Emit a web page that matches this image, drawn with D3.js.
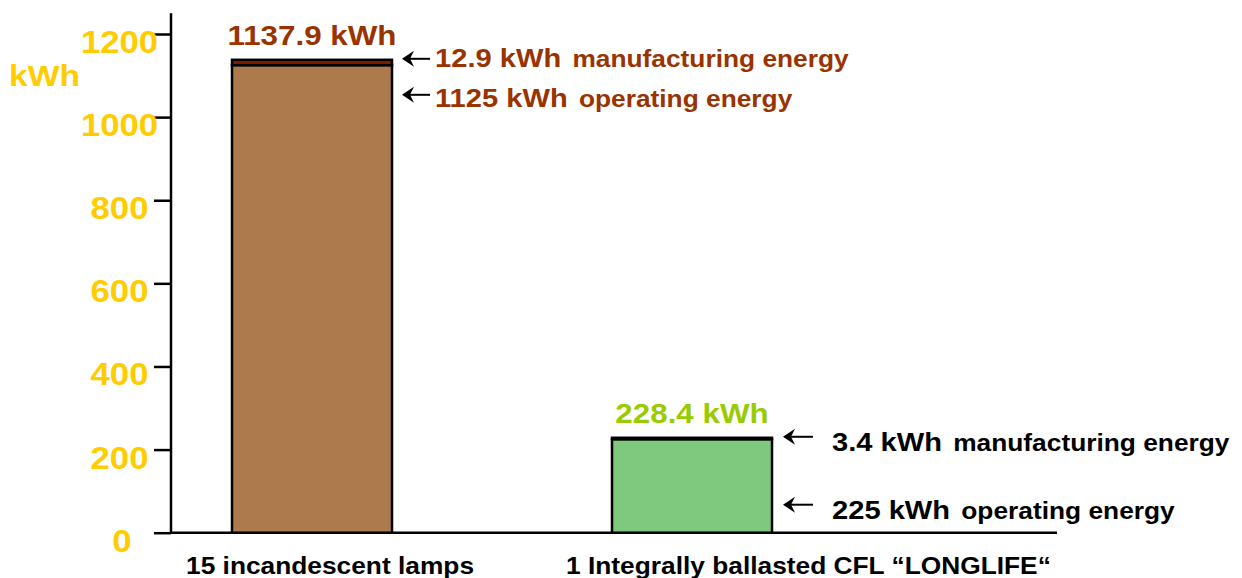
<!DOCTYPE html>
<html><head><meta charset="utf-8">
<script src="https://cdn.jsdelivr.net/npm/d3@7"></script>
<style>
html,body{margin:0;padding:0;background:#fff;}
text{font-family:"Liberation Sans",Arial,sans-serif;font-weight:bold;}
</style></head>
<body>
<svg id="chart" width="1242" height="578"></svg>
<script>
const categories = ["15 incandescent lamps", "1 Integrally ballasted CFL \u201cLONGLIFE\u201c"];
const operating = [1125, 225];
const manufacturing = [12.9, 3.4];
const totals = [1137.9, 228.4];
const tickValues = [0, 200, 400, 600, 800, 1000, 1200];
const opLabels = ["1125 kWh", "225 kWh"];
const mfLabels = ["12.9 kWh", "3.4 kWh"];
const totalLabels = ["1137.9 kWh", "228.4 kWh"];

const opColors = ["#AD7A4E", "#7FC97F"];
const mfColors = ["#7F1F00", "#2E8B3E"];
const totalColors = ["#993300", "#99CC00"];
const annColors = ["#993300", "#000000"];
const SX = 1.12;

const svg = d3.select("#chart");
const y = d3.scaleLinear().domain([0, 1200]).range([532.7, 34]);
const x = d3.scaleBand().domain(categories).range([156, 848]).paddingInner(220/380).paddingOuter(0.2);
const bw = x.bandwidth();

// axis
const axisX = 171;
const gAxis = svg.append("g").attr("transform", `translate(${axisX},0)`);
gAxis.call(d3.axisLeft(y).tickValues(tickValues).tickSize(17).tickFormat(""))
  .call(g => g.select(".domain").remove())
  .call(g => g.selectAll(".tick line").attr("stroke", "#000").attr("stroke-width", 2.5));
gAxis.append("line").attr("x1", 0).attr("x2", 0).attr("y1", y(0)).attr("y2", y(1250))
  .attr("stroke", "#000").attr("stroke-width", 2.5);
svg.append("line").attr("x1", axisX).attr("x2", 1057).attr("y1", y(0)).attr("y2", y(0))
  .attr("stroke", "#000").attr("stroke-width", 2.5);

function stext(px, py, anchor, size, color, str) {
  const g = svg.append("g").attr("transform", `translate(${px},${py}) scale(${SX},1)`);
  return g.append("text").attr("text-anchor", anchor).attr("font-size", size)
    .attr("fill", color).text(str);
}

tickValues.forEach(v => {
  stext(v === 0 ? 122 : 119.5, y(v) + 19, "middle", 31, "#FFCC00", v);
});
stext(9, 86, "start", 30, "#FFCC00", "kWh");

// bars
categories.forEach((c, i) => {
  const bx = x(c);
  svg.append("rect").attr("x", bx).attr("width", bw)
    .attr("y", y(operating[i])).attr("height", y(0) - y(operating[i]))
    .attr("fill", opColors[i]).attr("stroke", "#000").attr("stroke-width", 2.5);
  svg.append("rect").attr("x", bx).attr("width", bw)
    .attr("y", y(totals[i])).attr("height", y(operating[i]) - y(totals[i]))
    .attr("fill", mfColors[i]).attr("stroke", "#000").attr("stroke-width", 2.5);
  stext(bx + bw / 2, y(totals[i]) - 15, "middle", 28, totalColors[i], totalLabels[i]);
  // category label
  stext(bx - 46, 574, "start", 23.5, "#000", c);
});

// annotations
function arrow(tip, tail, yy) {
  svg.append("line").attr("x1", tip + 7).attr("x2", tail).attr("y1", yy).attr("y2", yy)
    .attr("stroke", "#000").attr("stroke-width", 2);
  svg.append("path")
    .attr("d", `M${tip},${yy} L${tip + 12},${yy - 8} L${tip + 8},${yy} L${tip + 12},${yy + 8} Z`)
    .attr("fill", "#000");
}
function ann(tx, ty, color, num, words) {
  const g = svg.append("g").attr("transform", `translate(${tx},${ty}) scale(${SX},1)`);
  const t = g.append("text").attr("fill", color);
  t.append("tspan").attr("font-size", 26).text(num);
  t.append("tspan").attr("font-size", 23.5).attr("dx", 10).text(words);
}

// bar 1
{
  const right = x(categories[0]) + bw;
  const yt = y(totals[0]);
  arrow(right + 10, right + 38, yt - 1);
  ann(right + 43, yt + 7, annColors[0], mfLabels[0], "manufacturing energy");
  arrow(right + 10, right + 38, yt + 35);
  ann(right + 43, yt + 47, annColors[0], opLabels[0], "operating energy");
}
// bar 2
{
  const right = x(categories[1]) + bw;
  const yt = y(totals[1]);
  arrow(right + 11, right + 41, yt - 1);
  ann(right + 60, yt + 13, annColors[1], mfLabels[1], "manufacturing energy");
  arrow(right + 11, right + 41, y(0) - 28);
  ann(right + 60, y(0) - 14, annColors[1], opLabels[1], "operating energy");
}
</script>
</body></html>
